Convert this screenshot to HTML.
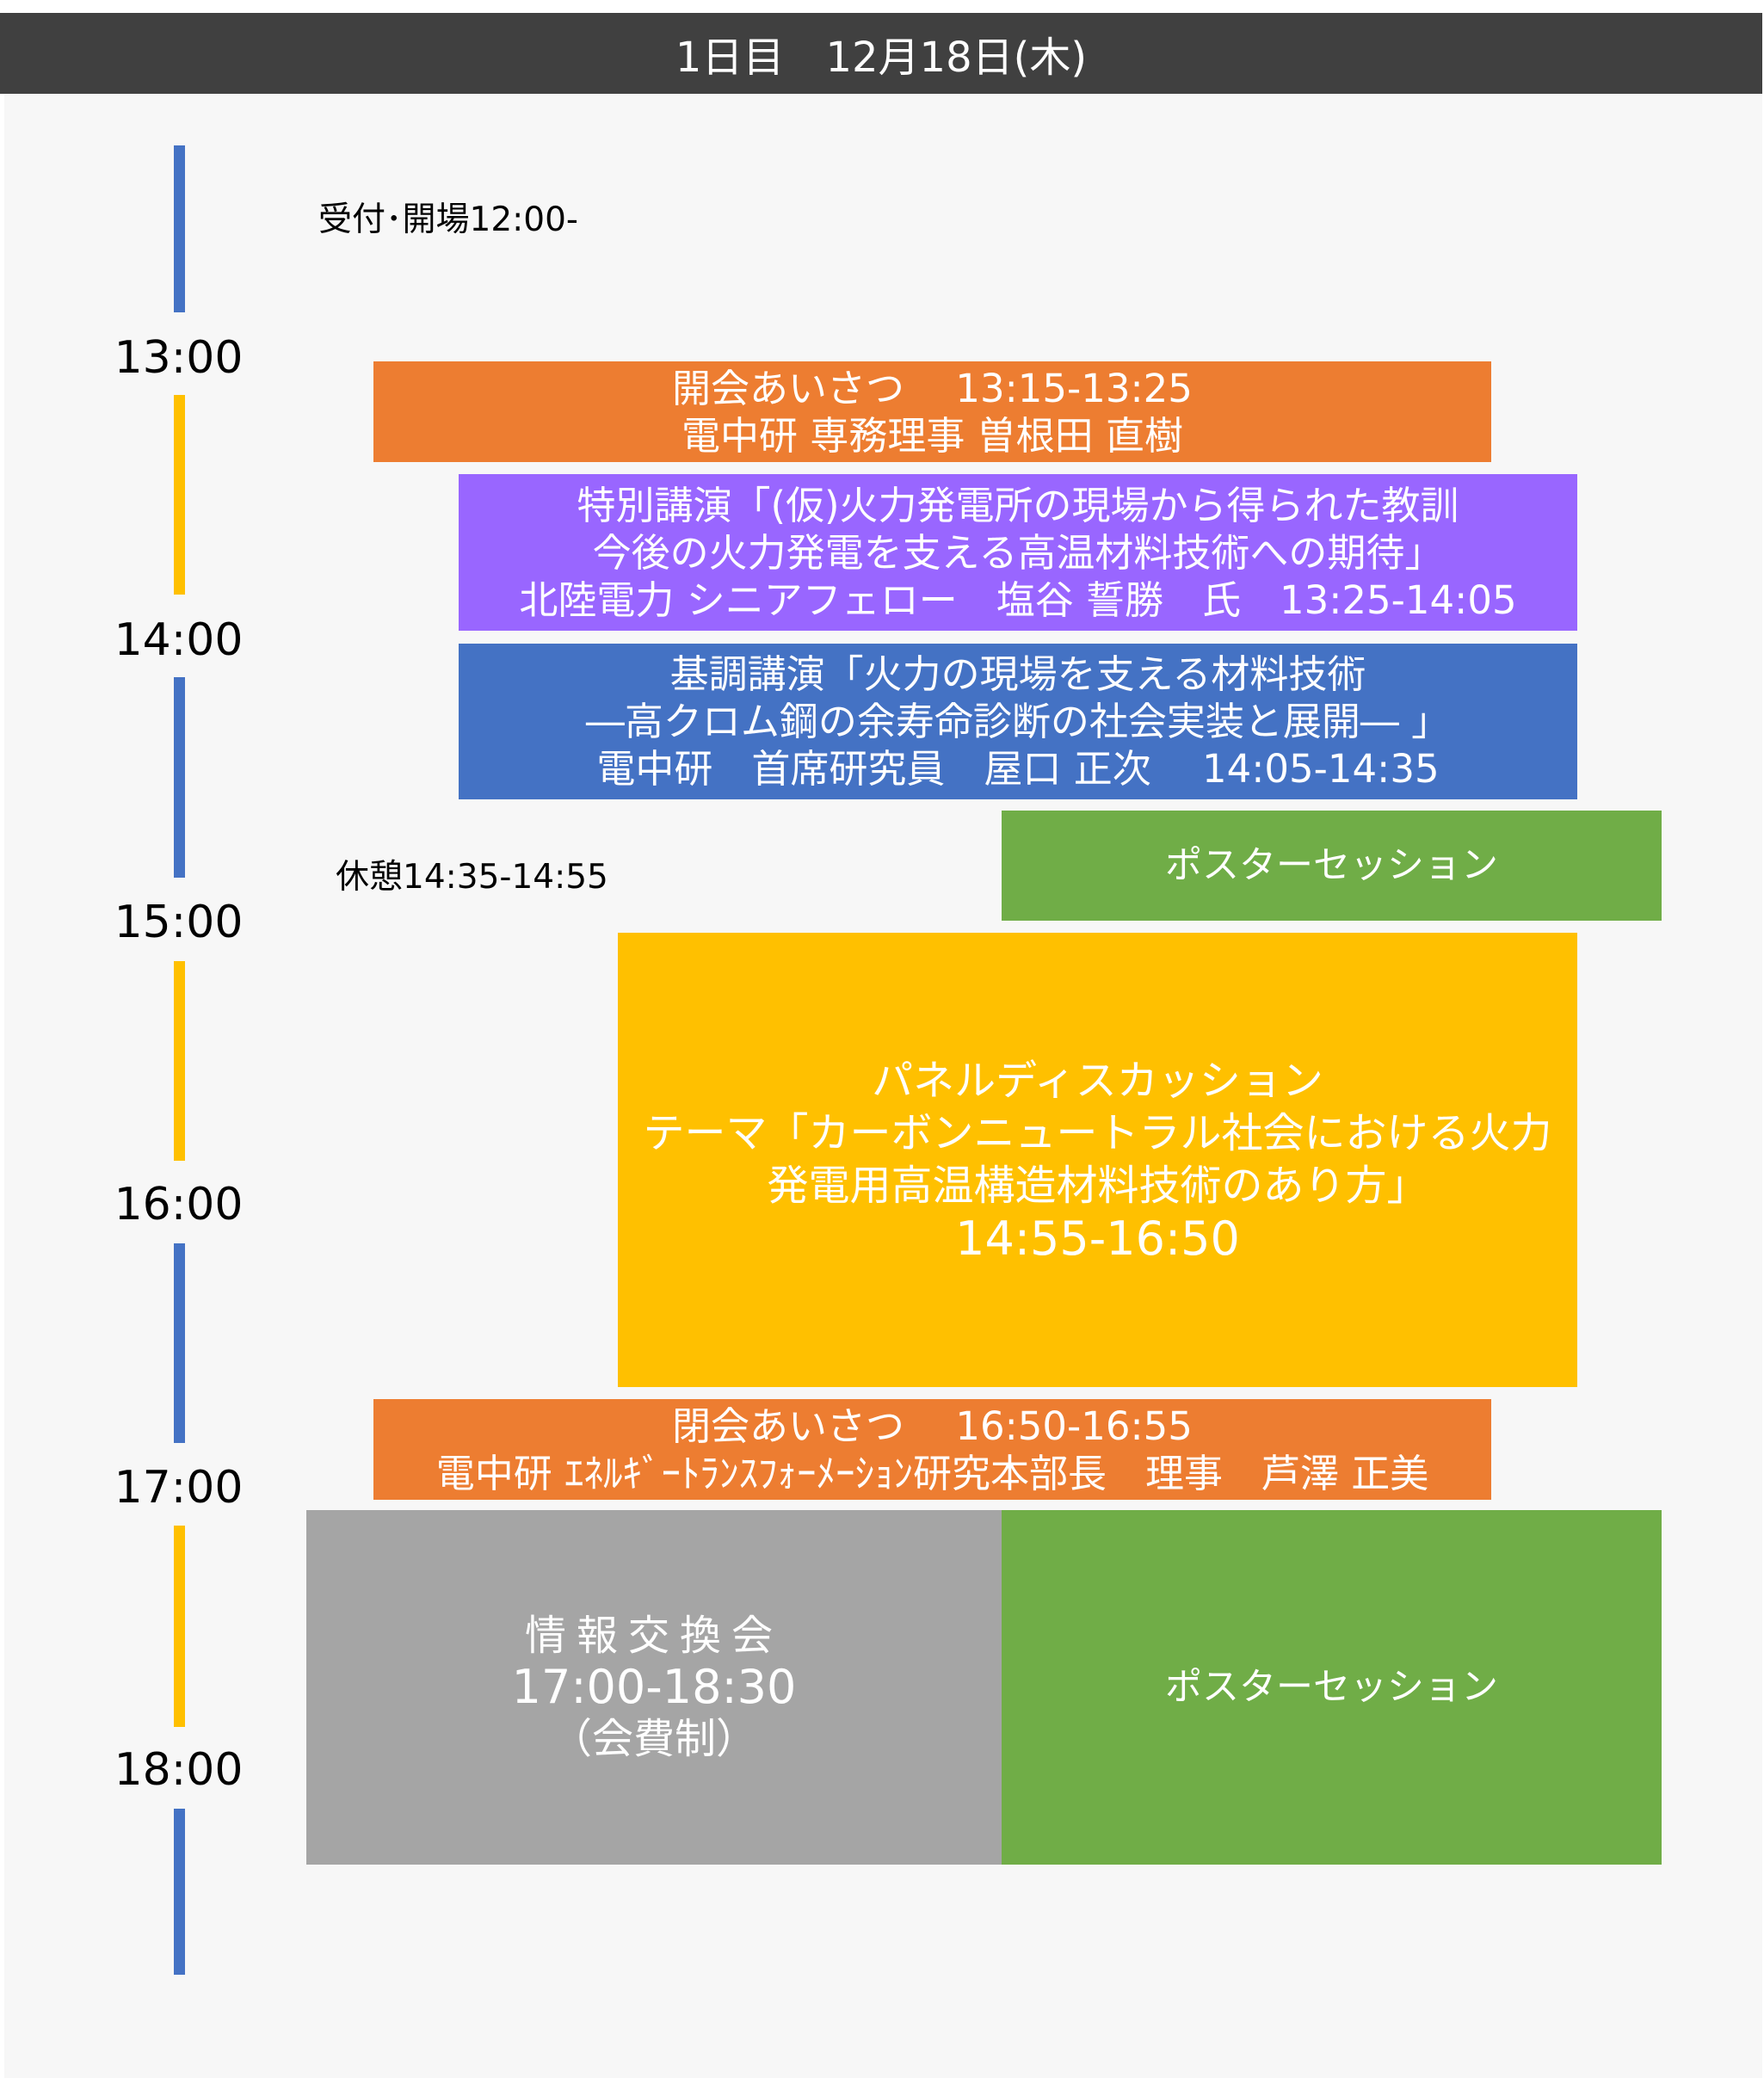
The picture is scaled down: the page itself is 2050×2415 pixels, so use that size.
<!DOCTYPE html>
<html><head><meta charset="utf-8"><style>
*{margin:0;padding:0;box-sizing:border-box}
body{width:2050px;height:2415px;background:#fff;position:relative;overflow:hidden;font-family:"DejaVu Sans","Noto Sans CJK JP",sans-serif}
.bg{position:absolute;left:5px;top:109px;width:2043px;height:2306px;background:#f7f7f7}
.hd{position:absolute;left:0;top:15px;width:2048px;height:94px;background:#404040;color:#fff;font-size:48px;display:flex;align-items:center;justify-content:center}
.bar{position:absolute;left:202px;width:13px}
.b{background:#4472C4}.y{background:#FFC000}
.t{position:absolute;left:90px;width:235px;text-align:center;font-size:52px;color:#000;line-height:60px}
.box{position:absolute;color:#fff;display:flex;flex-direction:column;align-items:center;justify-content:center;text-align:center;font-size:45px;line-height:55px}
.lbl{position:absolute;font-size:39px;color:#000}
</style></head><body>
<div class="bg"></div>
<div class="hd">1日目　12月18日(木)</div>
<div class="bar b" style="top:169px;height:194px"></div>
<div class="bar y" style="top:459px;height:232px"></div>
<div class="bar b" style="top:787px;height:233px"></div>
<div class="bar y" style="top:1117px;height:232px"></div>
<div class="bar b" style="top:1445px;height:232px"></div>
<div class="bar y" style="top:1773px;height:234px"></div>
<div class="bar b" style="top:2102px;height:193px"></div>
<div class="t" style="top:386px">13:00</div>
<div class="t" style="top:714px">14:00</div>
<div class="t" style="top:1042px">15:00</div>
<div class="t" style="top:1370px">16:00</div>
<div class="t" style="top:1699px">17:00</div>
<div class="t" style="top:2027px">18:00</div>
<div class="lbl" style="left:370px;top:224px">受付･開場12:00-</div>
<div class="lbl" style="left:390px;top:988px">休憩14:35-14:55</div>
<div class="box" style="left:434px;top:420px;width:1299px;height:117px;background:#ED7D31"><div>開会あいさつ　 13:15-13:25</div><div>電中研 専務理事 曽根田 直樹</div></div>
<div class="box" style="left:533px;top:551px;width:1300px;height:182px;background:#9966FF"><div>特別講演「(仮)火力発電所の現場から得られた教訓</div><div>今後の火力発電を支える高温材料技術への期待」</div><div>北陸電力 シニアフェロー　塩谷 誓勝　氏　13:25-14:05</div></div>
<div class="box" style="left:533px;top:748px;width:1300px;height:181px;background:#4472C4"><div>基調講演「火力の現場を支える材料技術</div><div>―高クロム鋼の余寿命診断の社会実装と展開― 」</div><div>電中研　首席研究員　屋口 正次　 14:05-14:35</div></div>
<div class="box" style="left:1164px;top:942px;width:767px;height:128px;background:#70AD47;font-size:43px">ポスターセッション</div>
<div class="box" style="left:718px;top:1084px;width:1115px;height:528px;background:#FFC000;font-size:48px;line-height:61px"><div>パネルディスカッション</div><div>テーマ「カーボンニュートラル社会における火力</div><div>発電用高温構造材料技術のあり方」</div><div style="font-size:54px">14:55-16:50</div></div>
<div class="box" style="left:434px;top:1626px;width:1299px;height:117px;background:#ED7D31"><div>閉会あいさつ　 16:50-16:55</div><div>電中研 ｴﾈﾙｷﾞｰﾄﾗﾝｽﾌｫｰﾒｰｼｮﾝ研究本部長　理事　芦澤 正美</div></div>
<div class="box" style="left:356px;top:1755px;width:808px;height:412px;background:#A5A5A5;font-size:48px;line-height:60px"><div style="letter-spacing:12px">情報交換会</div><div style="font-size:54px">17:00-18:30</div><div>（会費制）</div></div>
<div class="box" style="left:1164px;top:1755px;width:767px;height:412px;background:#70AD47;font-size:43px">ポスターセッション</div>
</body></html>
